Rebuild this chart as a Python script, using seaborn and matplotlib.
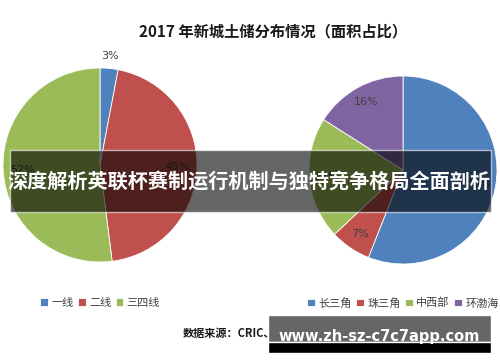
import matplotlib
matplotlib.use("Agg")
import matplotlib.pyplot as plt
from matplotlib.patches import Rectangle
import numpy as np
import seaborn as sns

# data
title = "2017 年新城土储分布情况（面积占比）"
tier_labels = ["一线", "二线", "三四线"]
tier_share = [3, 45, 52]
region_labels = ["长三角", "珠三角", "中西部", "环渤海"]
region_share = [56, 7, 21, 16]
banner_text = "深度解析英联杯赛制运行机制与独特竞争格局全面剖析"
source_text = "数据来源：CRIC、企业公告"
watermark = "www.zh-sz-c7c7app.com"

sns.set_style("white")
plt.rcParams['font.family'] = ['Noto Sans CJK SC', 'DejaVu Sans']

office = ["#4F81BD", "#C0504D", "#9BBB59", "#8064A2"]

W, H = 500, 362
fig = plt.figure(figsize=(W / 100, H / 100), dpi=100)


def px_axes(x0, y0, w, h):
    # pixel box (top-left origin) -> figure axes
    return fig.add_axes([x0 / W, 1 - (y0 + h) / H, w / W, h / H])


def draw_pie(ax, values, colors, label_dist):
    wedges, _ = ax.pie(values, colors=colors, startangle=90, counterclock=False,
                       wedgeprops=dict(edgecolor="white", linewidth=0.6))
    for w, v, d in zip(wedges, values, label_dist):
        ang = np.deg2rad((w.theta1 + w.theta2) / 2)
        ax.text(d * np.cos(ang), d * np.sin(ang), f"{v}%", ha="center", va="center",
                fontsize=8, color="#404040", family=["DejaVu Sans"])
    ax.set_xlim(-1, 1)
    ax.set_ylim(-1, 1)
    ax.set_aspect("equal")
    ax.axis("off")
    return wedges


ax1 = px_axes(3, 68, 194, 194)
w1 = draw_pie(ax1, tier_share, office[:3], [1.13, 0.8, 0.8])
ax2 = px_axes(309, 76, 188, 188)
w2 = draw_pie(ax2, region_share, office, [0.82, 0.82, 0.82, 0.82])

fig.text(273 / W, 1 - 31 / H, title, ha="center", va="center",
         fontsize=11, fontweight="bold", color="#1a1a1a")

leg_kw = dict(frameon=False, fontsize=8, handlelength=0.7, handleheight=0.7,
              handletextpad=0.3, columnspacing=0.4, borderaxespad=0, labelcolor="#404040")
fig.legend(w1, tier_labels, loc="center", bbox_to_anchor=(100 / W, 1 - 303 / H), ncol=3, **leg_kw)
fig.legend(w2, region_labels, loc="center", bbox_to_anchor=(403 / W, 1 - 303 / H), ncol=4, **leg_kw)

fig.text(183 / W, 1 - 333 / H, source_text, ha="left", va="center",
         fontsize=8, fontweight="bold", color="#1a1a1a")

# overlay banner
fig.patches.append(Rectangle((10 / W, 1 - 212 / H), 481 / W, 62 / H,
                             transform=fig.transFigure, facecolor="black", alpha=0.6, zorder=5))
fig.text(249 / W, 1 - 181 / H, banner_text, ha="center", va="center",
         fontsize=14.5, fontweight="bold", color="white", zorder=6)

# watermark box
fig.patches.append(Rectangle((268 / W, 1 - 342 / H), 223 / W, 27 / H,
                             transform=fig.transFigure, facecolor="#666666", zorder=5))
fig.patches.append(Rectangle((268 / W, 1 - 353 / H), 223 / W, 11 / H,
                             transform=fig.transFigure, facecolor="black", zorder=5))
fig.text(379 / W, 1 - 337 / H, watermark, ha="center", va="center",
         fontsize=10.5, fontweight="bold", color="white", zorder=6, family=["DejaVu Sans"])

fig.savefig("out.png", dpi=100, facecolor="white")
